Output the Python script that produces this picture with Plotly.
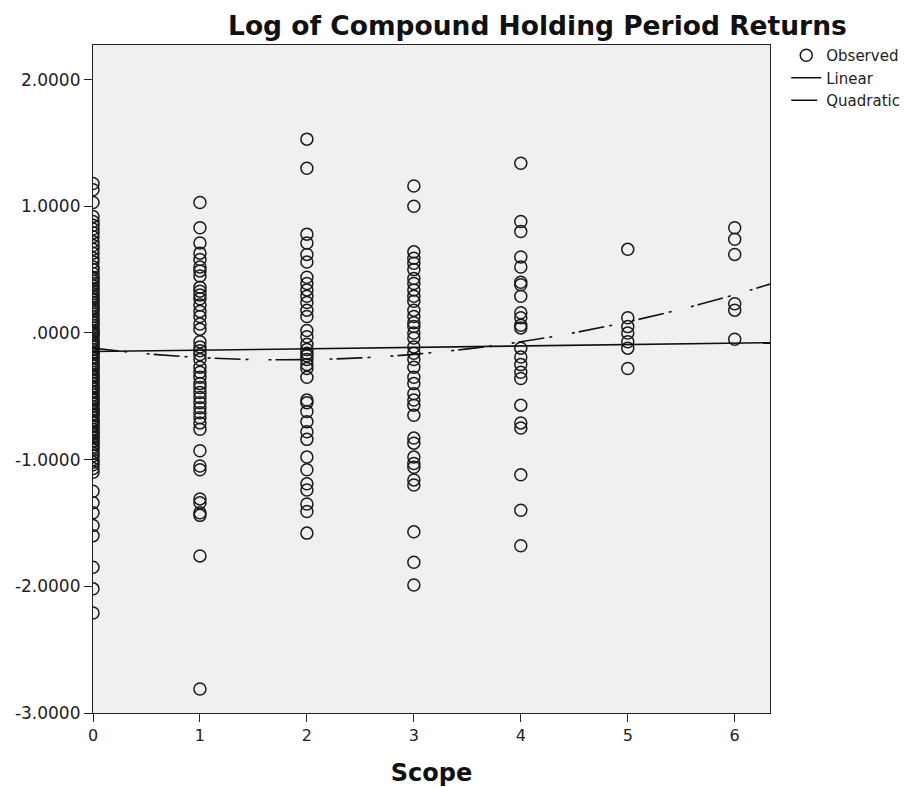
import plotly.graph_objects as go

# ---- data ----
scope_0 = [1.18, 1.13, 1.03, 0.92, 0.85, 0.79, 0.72, 0.66, 0.59, 0.52, 0.47,
           0.44, 0.41, 0.37, 0.35, 0.31, 0.29, 0.26, 0.22, 0.20, 0.17, 0.13, 0.11,
           0.08, 0.04, 0.02, 0.00, -0.02, -0.06, -0.08, -0.11, -0.15, -0.17, -0.20,
           -0.24, -0.26, -0.29, -0.33, -0.35, -0.38, -0.42, -0.44, -0.47, -0.51,
           -0.53, -0.56, -0.60, -0.62, -0.65, -0.69, -0.71, -0.74, -0.78, -0.80,
           -0.83, -0.86, -0.90, -0.95, -1.00, -1.04, -1.10, -1.25, -1.34, -1.42,
           -1.52, -1.60, -1.85, -2.02, -2.21,
           0.88, 0.82, 0.76, 0.69, 0.63, 0.56, 0.50, 0.43, 0.39, 0.33, 0.27, 0.24,
           0.19, 0.15, 0.09, 0.06, 0.01, -0.01, -0.04, -0.07, -0.10, -0.13, -0.16,
           -0.19, -0.22, -0.25, -0.28, -0.31, -0.34, -0.37, -0.40, -0.43, -0.46,
           -0.49, -0.52, -0.55, -0.58, -0.61, -0.64, -0.67, -0.70, -0.73, -0.76,
           -0.79, -0.82, -0.85, -0.88, -0.92, -0.97, -1.02, -1.07]
scope_1 = [1.03, 0.83, 0.71, 0.63, 0.58, 0.52, 0.49, 0.45, 0.36, 0.33, 0.30, 0.27,
           0.22, 0.17, 0.13, 0.07, 0.03, -0.07, -0.11, -0.14, -0.17, -0.21, -0.27,
           -0.31, -0.35, -0.40, -0.43, -0.47, -0.51, -0.55, -0.59, -0.63, -0.67,
           -0.71, -0.76, -0.93, -1.05, -1.08, -1.31, -1.34, -1.42, -1.44, -1.76,
           -2.81]
scope_2 = [1.53, 1.30, 0.78, 0.71, 0.62, 0.56, 0.44, 0.39, 0.34, 0.29, 0.24, 0.18,
           0.13, 0.02, -0.03, -0.09, -0.13, -0.16, -0.18, -0.21, -0.25, -0.28,
           -0.35, -0.53, -0.55, -0.62, -0.70, -0.78, -0.84, -0.98, -1.08, -1.19,
           -1.24, -1.35, -1.41, -1.58]
scope_3 = [1.16, 1.00, 0.64, 0.59, 0.55, 0.50, 0.43, 0.39, 0.34, 0.29, 0.25, 0.18,
           0.13, 0.08, 0.05, 0.00, -0.04, -0.11, -0.16, -0.21, -0.27, -0.35, -0.40,
           -0.48, -0.53, -0.57, -0.65, -0.83, -0.87, -0.98, -1.03, -1.06, -1.16,
           -1.20, -1.57, -1.81, -1.99]
scope_4 = [1.34, 0.88, 0.80, 0.60, 0.52, 0.40, 0.38, 0.29, 0.16, 0.12, 0.06, 0.04,
           -0.12, -0.19, -0.25, -0.31, -0.36, -0.57, -0.71, -0.75, -1.12, -1.40,
           -1.68]
scope_5 = [0.66, 0.12, 0.05, 0.00, -0.07, -0.12, -0.28]
scope_6 = [0.83, 0.74, 0.62, 0.23, 0.18, -0.05]

linear_x = [0.0, 6.33]
linear_y = [-0.147, -0.077]
quad_x = [0.0, 0.5, 1.0, 1.5, 2.0, 2.5, 3.0, 3.5, 4.0, 4.5, 5.0, 5.5, 6.0, 6.33]
quad_y = [-0.120, -0.164, -0.194, -0.210, -0.210, -0.197, -0.169, -0.126,
          -0.070, 0.002, 0.088, 0.188, 0.302, 0.386]

y_tickvals = [2, 1, 0, -1, -2, -3]
y_ticktext = ["2.0000", "1.0000", ".0000", "-1.0000", "-2.0000", "-3.0000"]
x_tickvals = [0, 1, 2, 3, 4, 5, 6]

columns = [scope_0, scope_1, scope_2, scope_3, scope_4, scope_5, scope_6]
obs_x, obs_y = [], []
for s, col in enumerate(columns):
    obs_x += [s] * len(col)
    obs_y += col

FONT = "DejaVu Sans"
fig = go.Figure()
fig.add_trace(go.Scatter(
    x=obs_x, y=obs_y, mode="markers", name="Observed",
    marker=dict(symbol="circle-open", size=12, color="#1a1a1a",
                line=dict(width=1.5, color="#1a1a1a")),
    cliponaxis=True))
fig.add_trace(go.Scatter(
    x=linear_x, y=linear_y, mode="lines", name="Linear",
    line=dict(color="#111111", width=1.6)))
fig.add_trace(go.Scatter(
    x=quad_x, y=quad_y, mode="lines", name="Quadratic", line_shape="spline",
    line=dict(color="#111111", width=1.6, dash="26px,5px,3px,20px,3px,4px")))

fig.update_layout(
    width=909, height=787,
    margin=dict(l=93, r=139, t=45, b=74, autoexpand=False),
    paper_bgcolor="white", plot_bgcolor="#f0f0f0",
    font=dict(family=FONT, size=16, color="#222222"),
    title=dict(text="<b>Log of Compound Holding Period Returns</b>",
               font=dict(family=FONT, size=26.5, color="#111111"),
               x=228 / 909, xanchor="left", y=1 - 26 / 787, yanchor="middle"),
    legend=dict(x=1.024, y=1.009, xanchor="left", yanchor="top",
                bgcolor="rgba(0,0,0,0)", font=dict(family=FONT, size=15),
                itemwidth=30, tracegroupgap=0),
    showlegend=True,
)
fig.update_xaxes(range=[0, 6.33], tickvals=x_tickvals, ticks="outside",
                 ticklen=8, tickcolor="#222", showgrid=False, zeroline=False,
                 showline=True, linecolor="#222", linewidth=1.2, mirror=True,
                 automargin=False,
                 tickfont=dict(family=FONT, size=16),
                 title=dict(text="<b>Scope</b>",
                            font=dict(family=FONT, size=24, color="#111111"),
                            standoff=20))
fig.update_yaxes(range=[-3.0, 2.273], tickvals=y_tickvals, ticktext=y_ticktext,
                 ticks="outside", ticklen=8, tickcolor="#222", showgrid=False,
                 zeroline=False, showline=True, linecolor="#222", linewidth=1.2,
                 mirror=True, automargin=False, tickfont=dict(family=FONT, size=17))

fig.write_html("out.html")
